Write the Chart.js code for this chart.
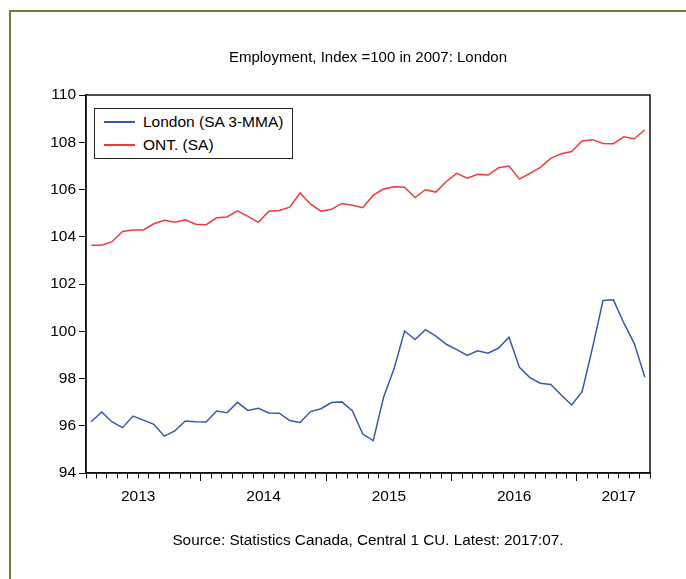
<!DOCTYPE html>
<html>
<head>
<meta charset="utf-8">
<title>Employment, Index =100 in 2007: London</title>
<script src="https://cdn.jsdelivr.net/npm/chart.js@4.4.0/dist/chart.umd.min.js"></script>
<style>
  html, body { margin:0; padding:0; background:#fff; }
  body { width:686px; height:579px; overflow:hidden; position:relative; font-family:'Liberation Sans', Arial, sans-serif; color:#000; }
  #frame { position:absolute; left:9px; top:10px; width:720px; height:620px; border:2px solid #77773a; }
  #chart { position:absolute; left:0; top:0; }
  .caption { position:absolute; left:0; width:736px; text-align:center; font-size:15px; line-height:18px; white-space:nowrap; }
  #title { top:48px; }
  #source { top:531px; font-size:15.3px; }
  #legend { position:absolute; left:94px; top:108px; width:197px; height:49px; border:1px solid #222; background:#fff; font-size:15.5px; }
  .row { position:absolute; left:9px; height:20px; display:flex; align-items:center; white-space:nowrap; }
  .swatch { width:31px; height:0; border-top:2px solid; margin-right:8px; }
</style>
</head>
<body>
<div id="frame"></div>
<canvas id="chart" width="686" height="579"></canvas>
<div class="caption" id="title">Employment, Index =100 in 2007: London</div>
<div class="caption" id="source">Source: Statistics Canada, Central 1 CU. Latest: 2017:07.</div>
<div id="legend"></div>
<script>
// monthly, 2013:02 .. 2017:07
const months = [
  '2013-02','2013-03','2013-04','2013-05','2013-06','2013-07','2013-08','2013-09','2013-10','2013-11','2013-12',
  '2014-01','2014-02','2014-03','2014-04','2014-05','2014-06','2014-07','2014-08','2014-09','2014-10','2014-11','2014-12',
  '2015-01','2015-02','2015-03','2015-04','2015-05','2015-06','2015-07','2015-08','2015-09','2015-10','2015-11','2015-12',
  '2016-01','2016-02','2016-03','2016-04','2016-05','2016-06','2016-07','2016-08','2016-09','2016-10','2016-11','2016-12',
  '2017-01','2017-02','2017-03','2017-04','2017-05','2017-06','2017-07'
];
const yearLabels = ['2013','2014','2015','2016','2017'];

const london = [
  96.17,96.58,96.16,95.92,96.41,96.24,96.06,95.56,95.78,96.20,
  96.17,96.16,96.62,96.55,96.99,96.65,96.74,96.54,96.53,96.22,
  96.14,96.60,96.72,96.98,97.01,96.64,95.65,95.37,97.22,98.42,
  100.01,99.65,100.07,99.79,99.45,99.22,98.98,99.17,99.07,99.29,
  99.75,98.47,98.04,97.80,97.75,97.30,96.88,97.44,99.31,101.30,
  101.33,100.34,99.48,98.06
];
const ont = [
  103.64,103.64,103.79,104.22,104.29,104.29,104.55,104.70,104.61,104.72,
  104.53,104.51,104.80,104.84,105.10,104.86,104.61,105.08,105.11,105.25,
  105.85,105.38,105.08,105.16,105.41,105.33,105.23,105.76,106.02,106.12,
  106.10,105.66,105.99,105.89,106.34,106.68,106.48,106.64,106.61,106.92,
  106.99,106.44,106.68,106.94,107.32,107.51,107.61,108.05,108.11,107.95,
  107.94,108.23,108.15,108.52
];

const series = [
  { label: 'London (SA 3-MMA)', data: london, color: '#3a57b0' },
  { label: 'ONT. (SA)', data: ont, color: '#ef3a3d' }
];

// year label sits mid-year (July boundary), pulled in if it would run off the axis
const yearAt = new Map();
yearLabels.forEach(y => {
  let p = months.indexOf(y + '-07');
  if (p < 0 || p > months.length - 3) p = months.length - 3;
  yearAt.set(p, y);
});
const isMajor = v => months[v] && months[v].endsWith('-01');

// box round the plot area
const plotFrame = {
  id: 'plotFrame',
  afterDraw(chart){
    const {ctx, chartArea: a} = chart;
    ctx.save();
    ctx.strokeStyle = '#111';
    ctx.lineWidth = 1.5;
    ctx.strokeRect(a.left, a.top, a.right - a.left, a.bottom - a.top);
    ctx.restore();
  }
};

Chart.defaults.font.family = "'Liberation Sans', Arial, sans-serif";
Chart.defaults.color = '#000';

new Chart(document.getElementById('chart').getContext('2d'), {
  type: 'line',
  data: {
    datasets: series.map(s => ({
      label: s.label,
      data: s.data.map((v, i) => ({ x: i + 0.5, y: v })),
      borderColor: s.color,
      borderWidth: 1.5,
      pointRadius: 0,
      tension: 0,
      fill: false
    }))
  },
  options: {
    responsive: false,
    animation: false,
    devicePixelRatio: 1,
    layout: { padding: { left: 0, right: 36, top: 95, bottom: 66 } },
    plugins: { legend: { display: false }, title: { display: false }, tooltip: { enabled: false } },
    scales: {
      x: {
        type: 'linear', min: 0, max: months.length,
        afterBuildTicks(scale){
          const t = [];
          for (let v = 0; v <= months.length; v++) t.push({ value: v });
          scale.ticks = t;
        },
        afterFit(scale){ scale.height = 40; },
        grid: {
          drawOnChartArea: false, tickLength: 8, tickColor: '#111', tickWidth: 1,
          tickBorderDash: c => (c.tick && isMajor(c.tick.value)) ? [] : [5, 30]
        },
        border: { color: '#111', width: 1.5 },
        ticks: { autoSkip: false, maxRotation: 0, padding: 6, font: { size: 15.5 },
                 callback: v => yearAt.get(v) || '' }
      },
      y: {
        min: 94, max: 110,
        afterFit(scale){ scale.width = 86; },
        grid: { drawOnChartArea: false, tickLength: 7, tickColor: '#111' },
        border: { color: '#111', width: 1.5 },
        ticks: { stepSize: 2, padding: 3, font: { size: 15.5 } }
      }
    }
  },
  plugins: [plotFrame]
});

// legend box
const legend = document.getElementById('legend');
series.forEach((s, i) => {
  const row = document.createElement('div');
  row.className = 'row';
  row.style.top = (3 + i * 23) + 'px';
  row.innerHTML = `<span class="swatch" style="border-color:${s.color}"></span><span>${s.label}</span>`;
  legend.appendChild(row);
});
</script>
</body>
</html>
